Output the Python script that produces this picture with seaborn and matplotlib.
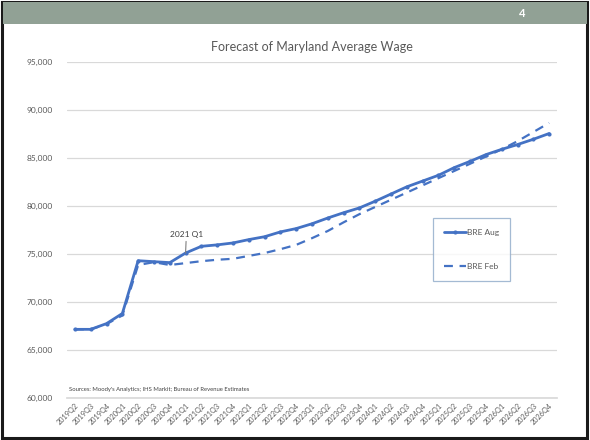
import matplotlib
matplotlib.use("Agg")
import matplotlib.pyplot as plt
from matplotlib.patches import Rectangle
import pandas as pd
import seaborn as sns

quarters = [f"{y}Q{q}" for y in range(2019, 2027) for q in range(1, 5)][1:]

bre_aug = [67150, 67150, 67750, 68800, 74300, 74200, 74100, 75100, 75800, 75950,
           76150, 76500, 76800, 77300, 77650, 78150, 78750, 79300, 79800, 80500,
           81250, 82000, 82600, 83200, 84000, 84650, 85350, 85900, 86400, 86950,
           87550]
bre_feb = [67150, 67150, 67700, 68600, 73850, 74150, 73850, 74050, 74250, 74400,
           74500, 74800, 75100, 75500, 75950, 76650, 77400, 78300, 79150, 79900,
           80650, 81400, 82150, 82900, 83650, 84400, 85150, 85900, 86750, 87700,
           88650]

df = pd.DataFrame({
    "quarter": quarters * 2,
    "wage": bre_aug + bre_feb,
    "series": ["BRE Aug"] * len(quarters) + ["BRE Feb"] * len(quarters),
})

sns.set_theme(style="white")
plt.rcParams["font.family"] = ["Lato", "DejaVu Sans"]

blue = "#4472C4"
grey_text = "#595959"

fig = plt.figure(figsize=(5.9, 4.4), dpi=100)
fig.patch.set_facecolor("white")

# slide frame and header band
fig.patches.append(Rectangle((0.003, 0.005), 0.992, 0.99, transform=fig.transFigure,
                             fill=False, edgecolor="#1a1a1a", linewidth=2.2, zorder=0))
fig.patches.append(Rectangle((0.005, 0.945), 0.99, 0.05, transform=fig.transFigure,
                             facecolor="#91A195", edgecolor="none", zorder=1))
fig.text(0.885, 0.97, "4", color="white", fontsize=8, fontweight="bold",
         ha="center", va="center")

ax = fig.add_axes([0.1136, 0.0955, 0.8305, 0.7636])

aug = df[df["series"] == "BRE Aug"]
feb = df[df["series"] == "BRE Feb"]
sns.lineplot(data=feb, x="quarter", y="wage", ax=ax, color=blue, linewidth=1.6,
             linestyle=(0, (4, 3)), label="BRE Feb", sort=False)
sns.lineplot(data=aug, x="quarter", y="wage", ax=ax, color=blue, linewidth=2.0,
             marker="o", markersize=3, markeredgewidth=0, label="BRE Aug", sort=False)

ax.set_xlim(-0.5, len(quarters) - 0.5)
ax.set_ylim(60000, 95000)
ax.set_yticks(range(60000, 95001, 5000))
ax.set_yticklabels([f"{v:,}" for v in range(60000, 95001, 5000)],
                   fontsize=6, color=grey_text)
ax.set_xticks(range(len(quarters)))
ax.set_xticklabels(quarters, rotation=45, ha="right", rotation_mode="anchor",
                   fontsize=5.2, color=grey_text)
ax.set_xlabel("")
ax.set_ylabel("")
ax.grid(axis="y", color="#D9D9D9", linewidth=0.9)
ax.set_axisbelow(True)
for side in ["top", "right", "left"]:
    ax.spines[side].set_visible(False)
ax.spines["bottom"].set_color("#D9D9D9")
ax.tick_params(axis="y", length=0, pad=10)
ax.tick_params(axis="x", length=0, pad=3)

ax.set_title("Forecast of Maryland Average Wage", fontsize=9, color=grey_text, pad=8)

# annotation for the first quarter of 2021
ax.annotate("2021 Q1", xy=(7, bre_aug[7]), xytext=(7.05, 76650),
            fontsize=6, color="#404040", ha="center", va="bottom",
            arrowprops=dict(arrowstyle="-", color="#7f7f7f", linewidth=0.8,
                            shrinkA=0, shrinkB=0))

ax.text(-0.4, 60650, "Sources: Moody's Analytics; IHS Markit; Bureau of Revenue Estimates",
        fontsize=4.2, color="#404040", ha="left", va="bottom")

handles, labels = ax.get_legend_handles_labels()
order = [labels.index("BRE Aug"), labels.index("BRE Feb")]
leg = ax.legend([handles[i] for i in order], [labels[i] for i in order],
                loc="upper left", bbox_to_anchor=(0.747, 0.535), frameon=True,
                fancybox=False, fontsize=6, labelspacing=3.2, handlelength=2.6,
                handletextpad=0.2, borderpad=1.3, borderaxespad=0)
leg.get_frame().set_edgecolor("#8EA9C8")
leg.get_frame().set_linewidth(0.9)
for t in leg.get_texts():
    t.set_color(grey_text)

fig.savefig("out.png", dpi=100, facecolor="white")
